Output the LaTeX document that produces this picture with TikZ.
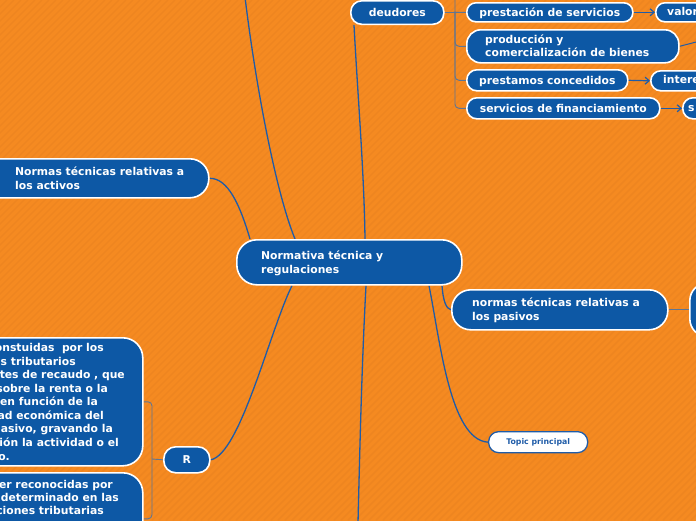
\documentclass[tikz,border=0pt]{standalone}
\usepackage{fontspec}
\setmainfont{DejaVu Sans}
\usetikzlibrary{arrows.meta,backgrounds}
\definecolor{bgor}{HTML}{F58A21}
\definecolor{bgst}{HTML}{EE8520}
\definecolor{nblue}{HTML}{0D58A5}
\definecolor{lblue}{HTML}{1F5CA8}
\definecolor{lgrey}{HTML}{5E7594}
\begin{document}
\begin{tikzpicture}[x=1pt,y=-1pt,
  bx/.style={draw=white, line width=1.6pt, fill=nblue, rounded corners=#1, text=white,
    font=\bfseries\fontsize{10.8}{13.8}\selectfont, inner sep=0pt, anchor=north west,
    text height=7.6pt, text depth=0pt},
  bx/.default=10,
  txt/.style={text=white, font=\bfseries\fontsize{10.8}{13.8}\selectfont, inner sep=0pt, align=left, anchor=west},
  frag/.style={text=white, font=\bfseries\fontsize{10.8}{13.8}\selectfont, inner sep=0pt, anchor=base east},
  conn/.style={draw=lblue, line width=1.3pt},
  br/.style={draw=lgrey, line width=0.9pt, rounded corners=4},
  arr/.style={draw=lblue, line width=1.2pt, -{Straight Barb[length=4pt,width=7pt]}},
  topic/.style={draw=lblue, line width=1.3pt, fill=white, rounded corners=10, text=lblue,
    font=\bfseries\fontsize{7.8}{9}\selectfont, inner sep=0pt, anchor=north west,
    text height=5.6pt, text depth=0pt},
]
\useasboundingbox (0,0) rectangle (696,520);
\begin{scope}[on background layer]
  \fill[bgor] (-5,-5) rectangle (701,525);
  \foreach \i in {0,7,...,1220} \draw[bgst, line width=1.4pt] (\i,0) -- ({\i-520},520);
\end{scope}

% top cluster
\node[bx=11, minimum width=93pt, minimum height=23.5pt] (deu) at (350,0) {deudores};
\node[bx=9, minimum width=166pt, minimum height=19pt] (prest) at (466,2) {prestación de servicios};
\node[bx=9, minimum width=80pt, minimum height=19pt] (valoff) at (655,2) {};
\node[txt] (valt) at (667,11.6) {valor};
\node[bx=14, minimum width=212pt, minimum height=33pt] (prod) at (466,29) {};
\node[txt] (prodt) at (485,45.7) {producción y\\comercialización de bienes};
\node[bx=10, minimum width=161pt, minimum height=21pt] (prst) at (466,69) {prestamos concedidos};
\node[bx=10, minimum width=80pt, minimum height=20pt] (intoff) at (650,70) {};
\node[txt] (intt) at (663,79.8) {intere};
\node[bx=10, minimum width=193pt, minimum height=21pt] (serv) at (466,97) {servicios de financiamiento};
\node[bx=10, minimum width=60pt, minimum height=21pt] (soff) at (682,97) {};
\node[txt] (st) at (688,108.2) {s};

% central
\node[bx=20, minimum width=225pt, minimum height=45pt] (c) at (236,239) {};
\node[txt] (ct) at (261,263) {Normativa técnica y\\regulaciones};

% activos
\node[bx=19, minimum width=228pt, minimum height=39pt] (act) at (-20,158) {};
\node[txt] (actt) at (15,178.2) {Normas técnicas relativas a\\los activos};

% pasivos
\node[bx=19, minimum width=216pt, minimum height=40pt] (pas) at (451,289) {};
\node[txt] (past) at (472,310.5) {normas técnicas relativas a\\los pasivos};
\node[bx=18, minimum width=80pt, minimum height=54pt] (pasoff) at (689,282) {};

% topic
\node[topic, minimum width=99pt, minimum height=21pt] (top) at (488,431) {Topic principal};

% R cluster
\node[bx=12, minimum width=46pt, minimum height=26pt] (R) at (163,446) {R};
\node[bx=20, minimum width=172pt, minimum height=128pt] (n1) at (-30,337) {};
\node[bx=20, minimum width=172pt, minimum height=92pt] (n2) at (-30,472) {};
\node[frag] (f1) at (104,351) {onstuidas~ por los};
\node[frag] (f2) at (76,365) {s tributarios};
\node[frag] (f3) at (125,378) {tes de recaudo , que};
\node[frag] (f4) at (108,392) {sobre la renta o la};
\node[frag] (f5) at (98,405) {en función de la};
\node[frag] (f6) at (104,419) {ad económica del};
\node[frag] (f7) at (113,432) {asivo, gravando la};
\node[frag] (f8) at (119,446) {ión la actividad o el};
\node[frag] (f9) at (10,460) {o.};
\node[frag] (g1) at (113,488) {er reconocidas por};
\node[frag] (g2) at (119,501) {determinado en las};
\node[frag] (g3) at (104,514) {ciones tributarias};

\coordinate (topend) at (245,-3);
\coordinate (botend) at (358,523);
\coordinate (prodend) at (700,41);
\coordinate (dtop) at (455,-6);
\coordinate (dj) at (455,11.5);
\coordinate (rj) at (152,459);

\begin{scope}[on background layer]
  \draw[conn] (topend) .. controls (255,80) and (275,190) .. ([xshift=59pt]c.north west);
  \draw[conn] ([xshift=4pt]deu.south west) .. controls (358,100) and (364,170) .. ([xshift=129pt]c.north west);
  \draw[conn] (act.east) .. controls (228,178) and (240,205) .. ([xshift=14pt]c.north west);
  \draw[conn] (R.east) .. controls (240,455) and (270,330) .. ([xshift=56pt]c.south west);
  \draw[conn] ([xshift=130pt]c.south west) .. controls (362,360) and (360,440) .. (botend);
  \draw[conn] ([xshift=193pt]c.south west) .. controls (440,340) and (450,440) .. (top.west);
  \draw[conn] ([xshift=206pt]c.south west) .. controls (443,300) and (446,309) .. (pas.west);
  \draw[br] (pas.east) -- (pasoff.west);
  \draw[conn, line width=1pt] (prod.east) -- (prodend);
  \draw[br] (deu.east) -- (prest.west);
  \draw[br] (dtop) |- (serv.west);
  \draw[br] (dj) |- (prod.west);
  \draw[br] (dj) |- (prst.west);
  \draw[br] (R.west) -- (rj);
  \draw[br] (n1.east) -| (rj) |- (n2.east);
\end{scope}

\draw[arr] (prest.east) -- (valoff.west);
\draw[arr] (prst.east) -- (intoff.west);
\draw[arr] (serv.east) -- (soff.west);
\end{tikzpicture}
\end{document}
